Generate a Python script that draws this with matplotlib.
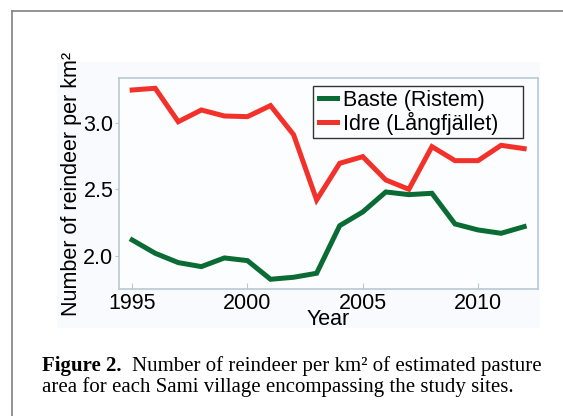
import matplotlib
matplotlib.use('Agg')
import matplotlib.pyplot as plt
from matplotlib.patches import Rectangle
from matplotlib.lines import Line2D

# Data
years = list(range(1995, 2013))
baste = [2.12, 2.02, 1.95, 1.92, 1.985, 1.965, 1.825, 1.84, 1.87, 2.227,
         2.33, 2.48, 2.46, 2.47, 2.24, 2.195, 2.17, 2.22]
idre = [3.245, 3.258, 3.007, 3.095, 3.05, 3.045, 3.128, 2.91, 2.42, 2.695,
        2.745, 2.57, 2.5, 2.82, 2.715, 2.715, 2.83, 2.805]
series_names = ['Baste (Ristem)', 'Idre (Långfjället)']
series_colors = ['#0b6b34', '#f2322a']
x_ticks = [1995, 2000, 2005, 2010]
y_ticks = [2.0, 2.5, 3.0]

plt.rcParams['font.family'] = ['Liberation Sans', 'DejaVu Sans']
serif = ['Liberation Serif', 'DejaVu Serif']

fig = plt.figure(figsize=(5.63, 4.16), dpi=100)
fig.patch.set_facecolor('white')

# outer frame (left and top edges)
fig.add_artist(Line2D([12 / 563, 12 / 563], [0, 1 - 11 / 416],
                      transform=fig.transFigure, color='#8a8a8a', lw=1.3))
fig.add_artist(Line2D([12 / 563, 1], [1 - 11 / 416, 1 - 11 / 416],
                      transform=fig.transFigure, color='#8a8a8a', lw=1.3))

# light panel behind the chart
fig.add_artist(Rectangle((57 / 563, 88 / 416), 483 / 563, 266 / 416,
                         transform=fig.transFigure, facecolor='#f8fafd',
                         edgecolor='none', zorder=0))

ax = fig.add_axes([119 / 563, 127 / 416, 419 / 563, 211 / 416])
ax.set_facecolor('#fcfdfe')

for vals, name, col in zip([baste, idre], series_names, series_colors):
    ax.plot(years, vals, color=col, lw=3.6, label=name, solid_joinstyle='miter')

ax.set_xlim(1994.43, 2012.6)
ax.set_ylim(1.752, 3.335)
ax.set_xticks(x_ticks)
ax.set_yticks(y_ticks)
ax.set_yticklabels([f'{v:.1f}' for v in y_ticks])
ax.tick_params(axis='x', direction='in', length=4, color='#b9c9d3', labelsize=15.5, pad=3)
ax.tick_params(axis='y', direction='out', length=3, color='#b9c9d3', labelsize=15.5, pad=1)
for sp in ax.spines.values():
    sp.set_color('#b9c9d3')
    sp.set_linewidth(1.2)

ax.set_xlabel('Year', fontsize=15.5, labelpad=-4)
ax.set_ylabel('Number of reindeer per km²', fontsize=15.5, labelpad=1)

# legend: entries without frame, box drawn separately
leg = ax.legend(loc='center left', bbox_to_anchor=(0.472, 0.838), fontsize=15.5,
                handlelength=0.85, handletextpad=0.25, borderpad=0.1,
                labelspacing=0.05, frameon=False, borderaxespad=0)
ax.add_patch(Rectangle((0.463, 0.716), 0.501, 0.246, transform=ax.transAxes,
                       facecolor='none', edgecolor='#333333', lw=1.0, zorder=5))

# caption: bold "Figure 2." followed by regular text
y1 = 1 - 371 / 416
y2 = 1 - 392 / 416
cap_size = 15
t_bold = fig.text(42 / 563, y1, 'Figure 2.', fontsize=cap_size, family=serif,
                  weight='bold', va='baseline', ha='left')
fig.canvas.draw()
bb = t_bold.get_window_extent()
x_rest = (bb.x1 + 10) / fig.bbox.width
fig.text(x_rest, y1, 'Number of reindeer per km² of estimated pasture',
         fontsize=cap_size, family=serif, va='baseline', ha='left')
fig.text(42 / 563, y2, 'area for each Sami village encompassing the study sites.',
         fontsize=cap_size, family=serif, va='baseline', ha='left')

fig.savefig('out.png', dpi=100)
